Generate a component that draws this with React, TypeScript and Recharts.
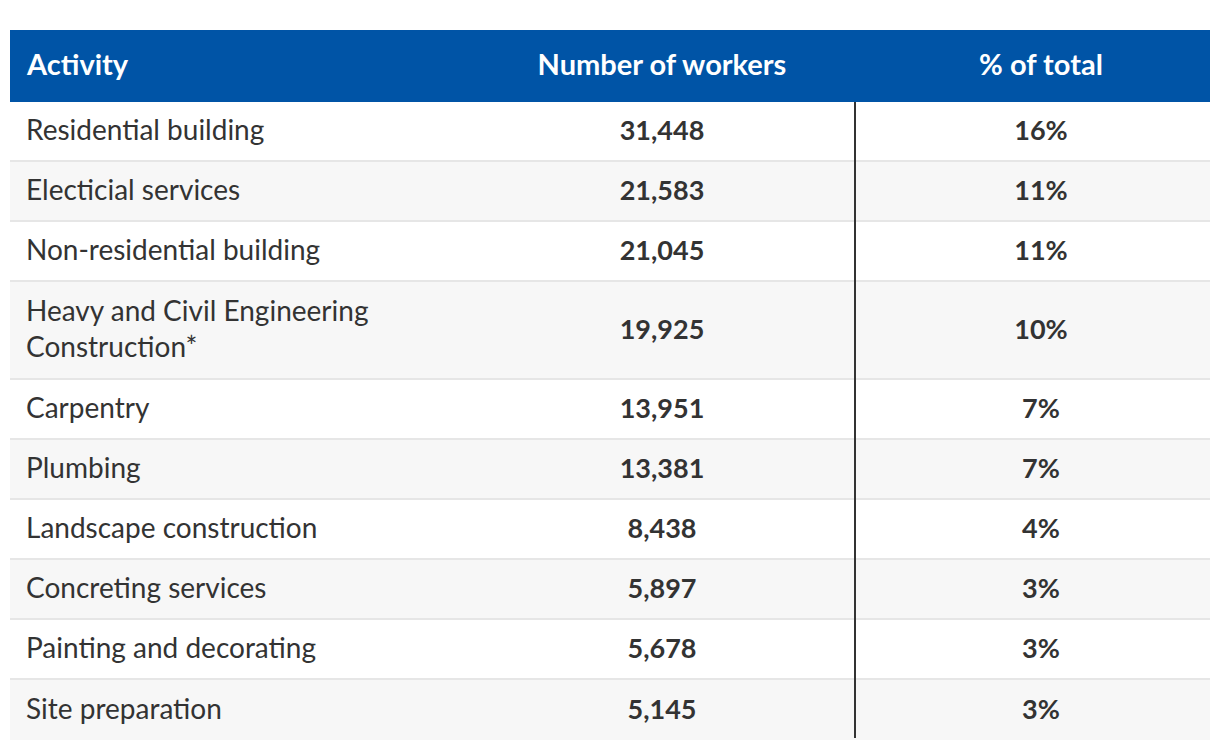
import React from "react";
import { ComposedChart, XAxis, YAxis, ReferenceArea } from "recharts";

const headers = ["Activity", "Number of workers", "% of total"];
const activities = [
  "Residential building",
  "Electicial services",
  "Non-residential building",
  "Heavy and Civil Engineering\nConstruction*",
  "Carpentry",
  "Plumbing",
  "Landscape construction",
  "Concreting services",
  "Painting and decorating",
  "Site preparation",
];
const workers = [31448, 21583, 21045, 19925, 13951, 13381, 8438, 5897, 5678, 5145];
const shares = [16, 11, 11, 10, 7, 7, 4, 3, 3, 3];

const FONT = "Lato, 'Noto Sans', sans-serif";
const BODY_SIZE = 28;
const NUM_SIZE = 27;
const HEAD_SIZE = 29;
const TEXT = "#333333";
const BLUE = "#0054a6";

const W = 1212;
const H = 740;
const PAGE = 8;
const TABLE_LEFT = 10;
const TABLE_RIGHT = 1210;
const HEAD_TOP = 30;
const HEAD_BOTTOM = 102;
const ROW_H = 60;
const EXTRA_LINE_H = 38;
const SEP = 2;
const COL2_CENTER = 662;
const COL3_CENTER = 1041;
const DIVIDER_X = 855;
const PAD_LEFT = 16;
const LINE_GAP = 36;
const BODY_SHIFT = -2;
const HEAD_SHIFT = -3;

type Row = { label: string[]; workers: number; share: number; top: number; bottom: number; last: boolean };

const rows: Row[] = (() => {
  let y = HEAD_BOTTOM;
  return activities.map((a, i) => {
    const lines = a.split("\n");
    const h = ROW_H + (lines.length - 1) * EXTRA_LINE_H;
    const r = {
      label: lines,
      workers: workers[i],
      share: shares[i],
      top: y,
      bottom: y + h,
      last: i === activities.length - 1,
    };
    y += h;
    return r;
  });
})();

const HeaderLabel = (props: any) => {
  const vb = props.viewBox || {};
  const cy = vb.y + vb.height / 2 + HEAD_SHIFT;
  const common = {
    fill: "#ffffff",
    fontFamily: FONT,
    fontSize: HEAD_SIZE,
    fontWeight: 700,
    dominantBaseline: "central" as const,
  };
  const x0 = vb.x - TABLE_LEFT;
  return (
    <g>
      <text x={vb.x + PAD_LEFT + 1} y={cy} textAnchor="start" {...common}>{headers[0]}</text>
      <text x={x0 + COL2_CENTER} y={cy} textAnchor="middle" {...common}>{headers[1]}</text>
      <text x={x0 + COL3_CENTER} y={cy} textAnchor="middle" {...common}>{headers[2]}</text>
    </g>
  );
};

const RowLabel = (props: any) => {
  const vb = props.viewBox || {};
  const row: Row = props.row;
  const shade: string = props.shade;
  const contentH = row.last ? vb.height : vb.height - SEP;
  const cy = vb.y + contentH / 2 + BODY_SHIFT;
  const n = row.label.length;
  const x0 = vb.x - TABLE_LEFT;
  const common = {
    fill: TEXT,
    fontFamily: FONT,
    dominantBaseline: "central" as const,
  };
  return (
    <g>
      <rect x={vb.x} y={vb.y} width={vb.width} height={contentH} fill={shade} />
      <rect x={x0 + DIVIDER_X - 1} y={vb.y} width={2} height={row.last ? vb.height - SEP : vb.height} fill="#333333" />
      {row.label.map((t, k) => (
        <text
          key={k}
          x={vb.x + PAD_LEFT}
          y={cy + (k - (n - 1) / 2) * LINE_GAP}
          textAnchor="start"
          fontSize={BODY_SIZE}
          {...common}
        >
          {t}
        </text>
      ))}
      <text x={x0 + COL2_CENTER} y={cy} textAnchor="middle" fontWeight={700} fontSize={NUM_SIZE} {...common}>
        {row.workers.toLocaleString("en-US")}
      </text>
      <text x={x0 + COL3_CENTER} y={cy} textAnchor="middle" fontWeight={700} fontSize={NUM_SIZE} {...common}>
        {row.share + "%"}
      </text>
    </g>
  );
};

export default function App() {
  return (
    <ComposedChart
      width={W}
      height={H}
      data={rows}
      margin={{ top: 0, right: PAGE + W - TABLE_RIGHT, bottom: 0, left: TABLE_LEFT - PAGE }}
    >
      <XAxis type="number" hide domain={[0, 1]} />
      <YAxis type="number" hide domain={[PAGE, PAGE + H]} reversed allowDataOverflow />
      <ReferenceArea
        y1={HEAD_TOP}
        y2={HEAD_BOTTOM}
        fill={BLUE}
        fillOpacity={1}
        stroke="none"
        ifOverflow="visible"
        label={<HeaderLabel />}
      />
      {rows.map((r, i) => (
        <ReferenceArea
          key={"row" + i}
          y1={r.top}
          y2={r.bottom}
          fill="#e6e6e6"
          fillOpacity={1}
          stroke="none"
          ifOverflow="visible"
          label={<RowLabel row={r} shade={i % 2 === 0 ? "#ffffff" : "#f7f7f7"} />}
        />
      ))}
    </ComposedChart>
  );
}
